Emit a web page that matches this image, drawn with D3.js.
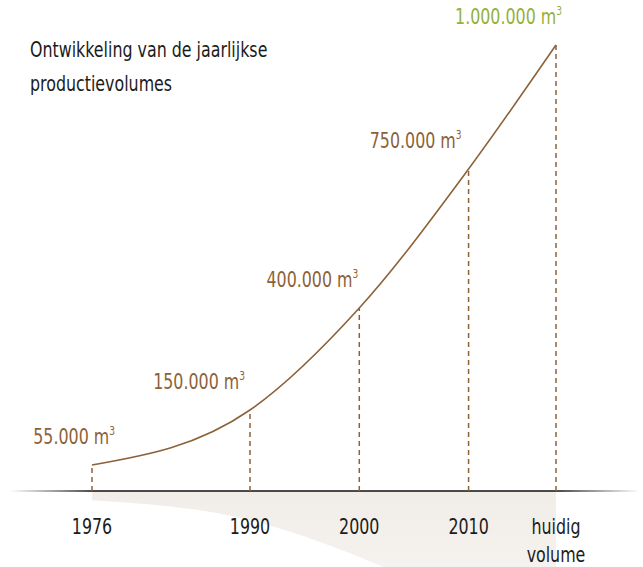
<!DOCTYPE html>
<html><head><meta charset="utf-8">
<script src="https://cdn.jsdelivr.net/npm/d3@7"></script>
<style>body{margin:0;background:#fff} svg{display:block}</style>
</head><body><svg id="c" width="643" height="567"></svg>
<script>
// ---- data ----
const categories = ["1976", "1990", "2000", "2010", "huidig volume"];
const years = [1976, 1990, 2000, 2010, 2018];
const volumes = [55000, 150000, 400000, 750000, 1000000];
const valueLabels = ["55.000", "150.000", "400.000", "750.000", "1.000.000"];
const titleLines = ["Ontwikkeling van de jaarlijkse", "productievolumes"];

// ---- layout / style ----
const W = 643, H = 567, axisY = 491;
// schematic (non-proportional) vertical placement used by the illustration
const yDomain = [0, 55000, 150000, 400000, 750000, 1000000];
const yRange = [491, 465, 410, 308, 169, 45];
const labelDx = [23, -5, -1, -7, 6];
const brown = "#8c6239", green = "#93b13a", ink = "#1c1c1c";
const font = "'DejaVu Sans Condensed','DejaVu Sans',sans-serif";
const squeeze = 0.84;

const svg = d3.select("#c");
const defs = svg.append("defs");

const x = d3.scaleLinear().domain([1976, 1990, 2018]).range([92, 250, 556]);
const y = d3.scaleLinear().domain(yDomain).range(yRange);

const data = years.map((yr, i) => ({yr, v: volumes[i], cat: categories[i], lab: valueLabels[i], i}));
const curve = d3.curveMonotoneX;

// shadow gradient
const sg = defs.append("linearGradient").attr("id", "shadow").attr("x1", 0).attr("y1", 0).attr("x2", 0).attr("y2", 1);
sg.append("stop").attr("offset", "0%").attr("stop-color", "#f1ede8");
sg.append("stop").attr("offset", "100%").attr("stop-color", "#f9f8f6");

const ag = defs.append("linearGradient").attr("id", "axisg").attr("gradientUnits", "userSpaceOnUse")
  .attr("x1", 10).attr("y1", 0).attr("x2", 640).attr("y2", 0);
[[0, 0], [0.13, 1], [0.87, 1], [1, 0]].forEach(([o, op]) =>
  ag.append("stop").attr("offset", o).attr("stop-color", "#111").attr("stop-opacity", op));

// shadow (reflection of the curve below the axis)
const shadowArea = d3.area()
  .x(d => x(d.yr))
  .y0(axisY)
  .y1(d => axisY + 0.36 * (axisY - y(d.v)))
  .curve(curve);
svg.append("path").datum(data).attr("d", shadowArea).attr("fill", "url(#shadow)");

// axis line
svg.append("line").attr("x1", 10).attr("x2", 640).attr("y1", axisY).attr("y2", axisY)
  .attr("stroke", "url(#axisg)").attr("stroke-width", 1.6);

// dashed drop lines
svg.selectAll(".drop").data(data).join("line")
  .attr("x1", d => x(d.yr)).attr("x2", d => x(d.yr))
  .attr("y1", axisY).attr("y2", d => y(d.v))
  .attr("stroke", brown).attr("stroke-width", 1.5).attr("stroke-dasharray", "5,4");

// curve
const line = d3.line().x(d => x(d.yr)).y(d => y(d.v)).curve(curve);
svg.append("path").datum(data).attr("d", line).attr("fill", "none")
  .attr("stroke", brown).attr("stroke-width", 1.6);

// helper: condensed text group
function tg(px, py) {
  return svg.append("g").attr("transform", `translate(${px},${py}) scale(${squeeze},1)`);
}

// value labels
data.forEach(d => {
  const t = tg(x(d.yr) + labelDx[d.i], y(d.v) - 21).append("text")
    .attr("text-anchor", "end").attr("font-family", font).attr("font-size", 21)
    .attr("fill", d.i === data.length - 1 ? green : brown);
  t.append("tspan").text(d.lab + " m");
  t.append("tspan").attr("font-size", 12).attr("dy", -9).text("3");
});

// category labels
data.forEach(d => {
  const t = tg(x(d.yr), 534).append("text")
    .attr("text-anchor", "middle").attr("font-family", font).attr("font-size", 21).attr("fill", ink);
  t.selectAll("tspan").data(d.cat.split(" ")).join("tspan")
    .attr("x", 0).attr("dy", (p, k) => k === 0 ? 0 : 28).text(p => p);
});

// title
const tt = tg(30, 57).append("text").attr("font-family", font).attr("font-size", 21).attr("fill", ink);
tt.selectAll("tspan").data(titleLines).join("tspan")
  .attr("x", 0).attr("dy", (t, k) => k === 0 ? 0 : 34).text(t => t);
</script></body></html>
